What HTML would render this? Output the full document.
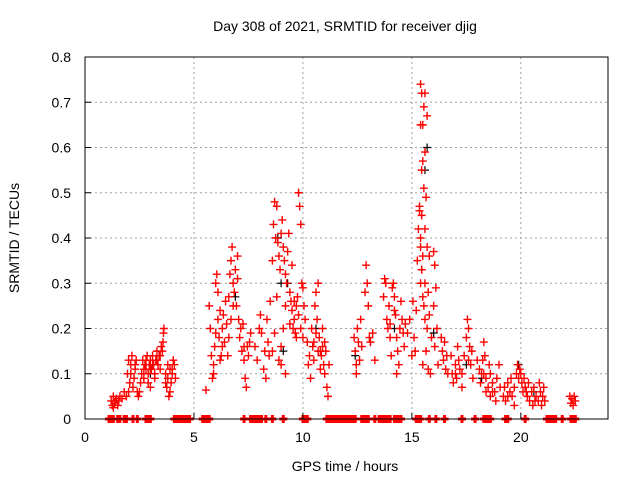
<!DOCTYPE html>
<html><head><meta charset="utf-8"><style>
html,body{margin:0;padding:0;background:#fff}
svg{display:block;font-family:"Liberation Sans",sans-serif}
</style></head><body>
<svg id="chart" width="640" height="480" viewBox="0 0 640 480">
<text x="345" y="31" font-size="14" text-anchor="middle">Day 308 of 2021, SRMTID for receiver djig</text>
<g id="grid"></g>
<g id="black-series"></g>
<g id="red-series"></g>
<rect x="85" y="57" width="523" height="362" fill="none" stroke="#000" stroke-width="1"/>
<g id="ticks"></g>
<text transform="translate(19,238) rotate(-90)" font-size="14" text-anchor="middle">SRMTID / TECUs</text>
<text x="345" y="471" font-size="14" text-anchor="middle">GPS time / hours</text>
</svg>
<script>
const xTicks=[0,5,10,15,20];
const yTicks=[0,0.1,0.2,0.3,0.4,0.5,0.6,0.7,0.8];
const yTickLabels=["0","0.1","0.2","0.3","0.4","0.5","0.6","0.7","0.8"];
const redPoints=[
[1.2,.04],[1.25,.03],[1.3,.05],[1.35,.035],[1.4,.04],[1.5,.03],[1.6,.05],[1.7,.045],[1.8,.06],[1.9,.05],[2.0,.06],[1.3,.025],[1.45,.045],[1.55,.04],
[1.95,.1],[2.0,.13],[2.05,.08],[2.1,.12],[2.15,.14],[2.2,.07],[2.25,.09],[2.3,.11],[2.35,.13],[2.4,.06],[2.45,.05],[2.5,.06],[2.55,.08],[2.1,.1],[2.3,.12],
[2.6,.1],[2.65,.13],[2.7,.09],[2.75,.12],[2.8,.11],[2.85,.14],[2.9,.1],[2.95,.12],[3.0,.13],[3.05,.11],[3.1,.14],[3.15,.12],[3.2,.1],[3.25,.13],[3.3,.15],[3.35,.12],[3.4,.14],[3.45,.11],[3.5,.16],[3.55,.15],[3.6,.19],[3.62,.2],[3.58,.17],[2.9,.08],[3.0,.07],[3.2,.09],[2.8,.13],[3.1,.12],[3.3,.13],[3.45,.14],[2.7,.11],[3.0,.11],
[3.7,.1],[3.75,.07],[3.8,.09],[3.85,.05],[3.9,.11],[3.95,.08],[4.0,.1],[4.05,.13],[4.1,.12],[4.15,.09],[3.8,.12],[3.9,.06],[3.7,.08],[4.0,.11],
[5.55,.064],[5.7,.25],[5.75,.2],[5.8,.14],[5.85,.09],[5.9,.1],[5.95,.16],[6.0,.3],[6.05,.32],[6.1,.22],[6.15,.18],[6.2,.13],[6.25,.14],[6.3,.2],[6.35,.23],[6.4,.17],[6.45,.26],[6.5,.21],[6.55,.14],[6.6,.18],[6.7,.35],[6.75,.38],[6.8,.3],[6.85,.28],[6.9,.33],[6.95,.25],[7.0,.31],[7.05,.22],[7.1,.18],[7.15,.2],[7.2,.15],[7.3,.13],[7.35,.09],[7.4,.07],[7.45,.16],[7.5,.14],[7.55,.17],[7.6,.19],[6.1,.28],[6.2,.24],[5.9,.12],[6.6,.27],[6.65,.32],[7.0,.36],[7.25,.21],[6.0,.19],[6.3,.16],[6.7,.22],[6.8,.25],[7.3,.16],
[7.8,.16],[7.9,.13],[8.0,.2],[8.05,.23],[8.1,.19],[8.2,.11],[8.25,.15],[8.3,.09],[8.35,.22],[8.4,.17],[8.5,.26],[8.45,.14],
[8.6,.35],[8.65,.43],[8.7,.48],[8.75,.4],[8.8,.47],[8.85,.39],[8.9,.36],[8.95,.33],[9.0,.41],[9.05,.44],[9.1,.38],[9.15,.35],[9.2,.32],[9.25,.3],[9.3,.37],[9.35,.41],[9.4,.28],[9.45,.26],[9.5,.24],[9.55,.2],[9.6,.22],[9.65,.19],[9.7,.25],[9.75,.27],[9.8,.5],[9.85,.47],[9.9,.43],[9.95,.3],[10.0,.29],[10.05,.25],[10.1,.22],[8.6,.15],[8.7,.19],[8.8,.27],[9.0,.16],[9.1,.2],[9.2,.25],[9.5,.34],[9.7,.18],[9.9,.2],[9.0,.12],[9.2,.1],[8.9,.13],[10.0,.18],[9.6,.26],[9.8,.23],[9.4,.21],
[10.2,.17],[10.25,.12],[10.3,.14],[10.35,.09],[10.4,.2],[10.45,.16],[10.5,.13],[10.55,.25],[10.6,.28],[10.65,.22],[10.7,.15],[10.75,.18],[10.8,.11],[10.85,.14],[10.9,.16],[10.95,.12],[11.0,.1],[11.05,.15],[11.1,.07],[11.15,.05],[10.6,.19],[10.7,.3],[10.9,.2],[11.0,.17],[11.2,.12],[10.8,.15],[10.5,.17],
[12.35,.18],[12.4,.15],[12.45,.12],[12.5,.2],[12.55,.17],[12.6,.13],[12.65,.22],[12.7,.16],[12.45,.1],
[12.85,.28],[12.9,.34],[12.95,.3],[13.0,.25],[13.05,.18],[13.1,.17],[13.2,.19],[13.3,.13],
[13.7,.27],[13.75,.31],[13.8,.3],[13.85,.22],[13.9,.2],[13.95,.25],[14.0,.18],[14.05,.14],[14.1,.29],[14.15,.3],[14.2,.27],[14.25,.23],[14.3,.18],[14.35,.15],[14.4,.12],[14.45,.2],[14.5,.26],[14.55,.22],[14.6,.19],[14.65,.16],[14.7,.21],[14.8,.19],[14.3,.1],[14.0,.21],[14.2,.24],
[14.9,.22],[15.0,.14],[15.05,.26],[15.1,.18],[15.15,.15],[15.2,.24],[15.25,.35],[15.3,.42],[15.35,.46],[15.4,.38],[15.45,.33],
[15.4,.74],[15.45,.72],[15.6,.72],[15.55,.69],[15.7,.67],[15.4,.65],[15.5,.65],[15.6,.59],[15.5,.57],[15.45,.55],[15.55,.51],[15.65,.49],[15.35,.47],[15.45,.45],[15.6,.42],[15.4,.4],[15.7,.38],[15.5,.36],[15.8,.36],[15.45,.33],[15.6,.3],[15.5,.27],[15.75,.28],[15.6,.22],[15.8,.23],[15.9,.18],[15.65,.15],[15.5,.12],[15.75,.11],[15.85,.1],[15.4,.3],[15.55,.25],[15.7,.2],
[16.0,.37],[16.05,.34],[16.1,.29],[16.0,.25],[16.15,.2],[16.05,.16],[16.2,.12],
[16.35,.18],[16.4,.15],[16.45,.13],[16.5,.17],[16.55,.11],[16.6,.14],[16.65,.1],
[16.8,.14],[16.85,.1],[16.9,.08],[17.0,.12],[17.05,.09],[17.1,.16],[17.15,.13],[17.2,.11],[17.3,.1],[17.4,.14],[17.5,.18],[17.55,.22],[17.6,.2],[17.65,.16],[17.7,.12],[17.8,.09],[17.75,.15],[17.3,.07],[17.0,.1],[17.6,.13],
[18.0,.13],[18.1,.11],[18.15,.08],[18.2,.1],[18.25,.13],[18.3,.17],[18.35,.14],[18.4,.09],[18.5,.07],[18.55,.12],[18.6,.1],[18.7,.08],[18.8,.06],[18.9,.09],[19.0,.12],[19.05,.07],[18.85,.04],[18.6,.05],[18.4,.06],[18.3,.1],[18.7,.06],
[19.2,.05],[19.25,.07],[19.3,.04],[19.4,.08],[19.5,.06],[19.55,.09],[19.6,.05],[19.7,.07],[19.8,.1],[19.85,.12],[19.9,.09],[19.95,.11],[19.7,.03],[19.4,.05],
[20.0,.1],[20.05,.08],[20.1,.06],[20.15,.09],[20.2,.07],[20.3,.05],[20.35,.08],[20.4,.04],[20.5,.06],[20.55,.03],[20.6,.07],[20.7,.05],[20.8,.04],[20.85,.08],[20.9,.06],[20.95,.03],[21.0,.05],[21.05,.07],[21.1,.04],[20.25,.06],[20.65,.04],
[22.25,.05],[22.3,.035],[22.35,.045],[22.4,.03],[22.45,.05],[22.5,.04]
];
const zeroHours=[1.1,1.15,1.2,1.3,1.5,1.6,1.8,1.9,2.2,2.4,2.8,2.9,3.0,4.1,4.15,4.2,4.3,4.4,4.5,4.6,4.7,4.8,5.4,5.5,5.6,5.7,7.3,7.6,7.7,7.8,7.9,8.0,8.1,8.3,8.6,9.1,10.0,10.1,10.2,11.1,11.2,11.3,11.4,11.5,11.6,11.7,11.8,11.9,12.0,12.1,12.2,12.3,12.4,12.7,12.8,12.9,13.0,13.3,13.5,13.6,13.7,13.8,13.9,14.0,14.2,14.3,14.4,14.5,15.2,15.3,15.4,15.8,16.1,16.5,17.3,17.9,18.3,18.4,18.5,18.6,19.3,19.4,20.2,21.2,21.3,21.4,21.5,21.6,21.9,22.3,22.4,22.5];
const blackPoints=[[9.8,.5],[9.3,.3],[9.0,.3],[8.85,.4],[15.6,.55],[15.7,.6],[13.1,.17],[19.9,.12],[9.1,.15],[10.6,.2],[6.9,.27],[14.2,.2],[16.0,.19],[17.5,.12],[3.0,.1],[12.4,.14],[18.2,.09],[20.6,.06]];

const X0=85,X1=608,Y0=419,Y1=57,XMAX=24,YMAX=0.8;
const xs=h=>X0+(X1-X0)*h/XMAX;
const ys=v=>Y0-(Y0-Y1)*v/YMAX;
const NS="http://www.w3.org/2000/svg";
function mk(tag,parent,attrs){const e=document.createElementNS(NS,tag);for(const k in attrs)e.setAttribute(k,attrs[k]);parent.appendChild(e);return e;}
const grid=document.getElementById('grid'),ticks=document.getElementById('ticks');
xTicks.forEach(t=>{
  const x=xs(t);
  if(t>0){const g=mk('line',grid,{x1:x,x2:x,y1:Y0,y2:Y1,stroke:'#a0a0a0','stroke-dasharray':'2,3'});
  
  }
  const l=mk('line',ticks,{x1:x,x2:x,y1:Y0,y2:Y0-6,stroke:'#000'});
  
  
  const tx=mk('text',ticks,{x:x,y:442,'font-size':14,'text-anchor':'middle'});tx.textContent=String(t);
  
  
});
yTicks.forEach((t,i)=>{
  const y=ys(t);
  if(t>0&&t<YMAX){const g=mk('line',grid,{x1:X0,x2:X1,y1:y,y2:y,stroke:'#a0a0a0','stroke-dasharray':'2,3'});
  
  }
  const l=mk('line',ticks,{x1:X0,x2:X0+6,y1:y,y2:y,stroke:'#000'});
  
  
  const tx=mk('text',ticks,{x:71,y:y+5,'font-size':14,'text-anchor':'end'});tx.textContent=yTickLabels[i];
  
  
});
function plus(parent,h,v,color,name,w){
  const x=xs(h),y=ys(v);
  const p=mk('path',parent,{d:`M${x-4},${y}H${x+4}M${x},${y-4}V${y+4}`,stroke:color,'stroke-width':w,fill:'none'});
  
  
}
const bg=document.getElementById('black-series'),rg=document.getElementById('red-series');
blackPoints.forEach(d=>plus(bg,d[0],d[1],'#000','black-point',1.2));
redPoints.forEach(d=>plus(rg,d[0],d[1],'#ff0000','red-point',1.4));
zeroHours.forEach(h=>plus(rg,h,0,'#ff0000','zero-point',3));
</script>
</body></html>
